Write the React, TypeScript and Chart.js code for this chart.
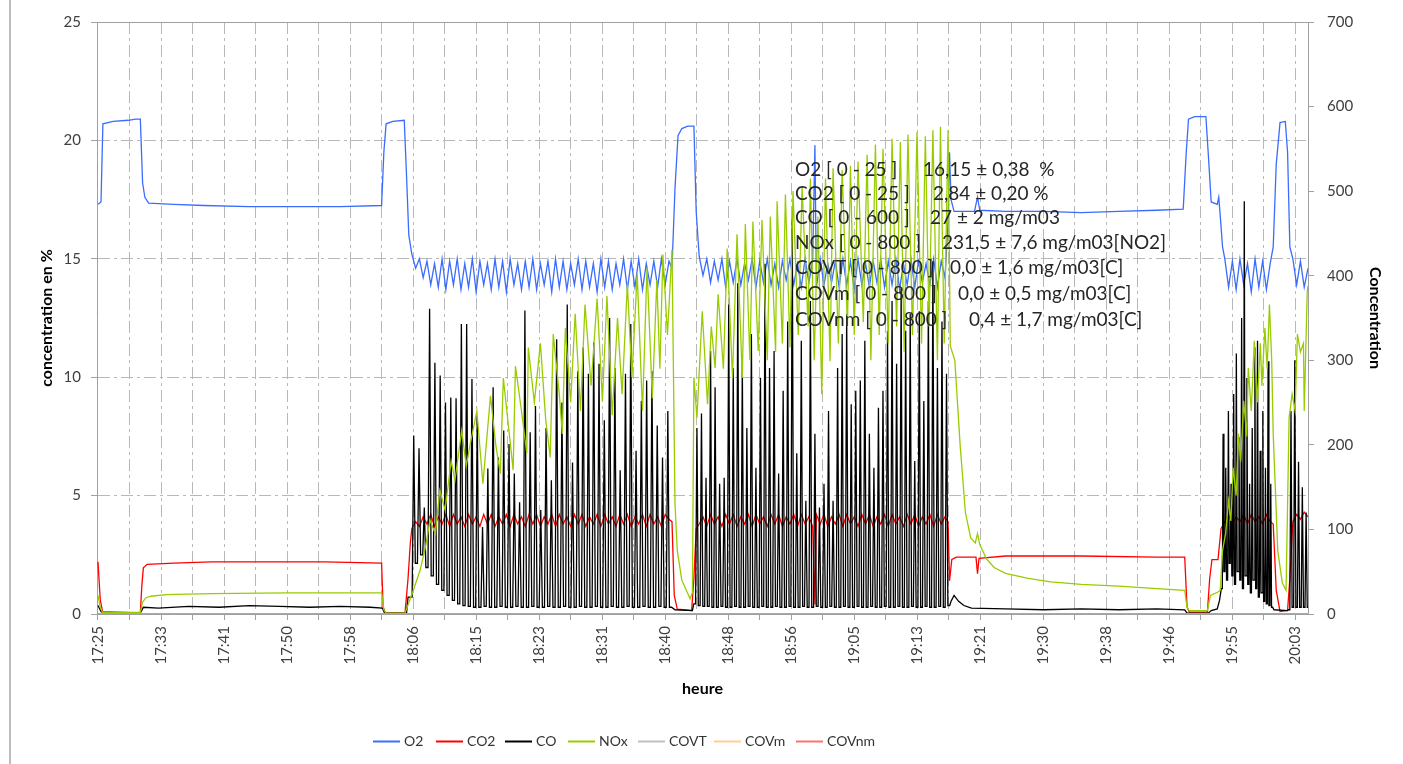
import React, { useEffect, useRef } from "react";
import { Chart, registerables } from "chart.js";

Chart.register(...registerables);

// ---------- axis / label data ----------
const timeLabels = [
  "17:25", "17:33", "17:41", "17:50", "17:58", "18:06", "18:15", "18:23", "18:31", "18:40",
  "18:48", "18:56", "19:05", "19:13", "19:21", "19:30", "19:38", "19:46", "19:55", "20:03",
];
const minutesPerTick = 25 / 6; // a labelled tick every 2 ticks
const tickCount = 39;

const seriesNames = ["O2", "CO2", "CO", "NOx", "COVT", "COVm", "COVnm"];
const seriesColors = ["#3a6cff", "#ff0000", "#000000", "#99cc00", "#c0c0c0", "#ffcc99", "#ff7070"];

const statLabels = [
  "O2 [ 0 - 25 ]",
  "CO2 [ 0 - 25 ]",
  "CO [ 0 - 600 ]",
  "NOx [ 0 - 800 ]",
  "COVT [ 0 - 800 ]",
  "COVm [ 0 - 800 ]",
  "COVnm [ 0 - 800 ]",
];
const statValues = [
  "16,15 ± 0,38  %",
  "2,84 ± 0,20 %",
  "27 ± 2 mg/m03",
  "231,5 ± 7,6 mg/m03[NO2]",
  "0,0 ± 1,6 mg/m03[C]",
  "0,0 ± 0,5 mg/m03[C]",
  "0,4 ± 1,7 mg/m03[C]",
];

// ---------- series data (time in minutes after 17:25) ----------
type Pair = [number, number];
type Burst = { start: number; step: number; values: number[]; spiky?: boolean };

// O2 (%)
const o2Pts: Pair[] = [
  [0, 17.3], [0.4, 17.4], [0.65, 20.7], [2, 20.8], [4, 20.85], [5.0, 20.9], [5.6, 20.9], [5.9, 18.2],
  [6.2, 17.6], [6.7, 17.35], [10, 17.3], [14, 17.25], [20, 17.2], [26, 17.2], [32, 17.2], [37.5, 17.25],
  [37.8, 19.5], [38.1, 20.7], [39, 20.8], [40.5, 20.85], [40.8, 18.5], [41.1, 16.0],
  [75.9, 14.6], [76.3, 18.0], [76.7, 20.2], [77.2, 20.5], [78.0, 20.6], [78.8, 20.6], [79.1, 17.0],
  [94.8, 19.8],
  [112.4, 16.5], [112.6, 19.5], [112.8, 17.5], [113.2, 17.0], [115.9, 17.0], [116.3, 17.6], [116.6, 17.05],
  [120, 17.0], [125, 17.0], [130, 16.95], [135, 17.0], [140, 17.05], [143.5, 17.1], [143.9, 19.5],
  [144.2, 20.9], [145, 21.0], [146.5, 21.0], [146.8, 19.5], [147.2, 17.4], [148.0, 17.3], [148.2, 17.6],
  [148.4, 16.8], [148.7, 15.5],
  [155.4, 15.5], [155.8, 19.0], [156.3, 20.75], [157.0, 20.8], [157.3, 19.5], [157.6, 15.5],
];
const o2Burn1 = [
  15.2, 14.6, 15.0, 14.2, 14.9, 13.9, 14.8, 13.8, 15.0, 13.7,
  14.9, 13.9, 15.0, 13.7, 14.8, 13.8, 15.0, 13.6, 14.9, 13.9,
  14.8, 13.7, 15.0, 13.8, 14.9, 13.6, 15.0, 13.9, 14.8, 13.7,
  14.9, 13.8, 15.0, 13.7, 14.8, 13.9, 14.9, 13.6, 15.0, 13.8,
  14.9, 13.7, 14.8, 13.9, 15.0, 13.7, 14.9, 13.8, 14.8, 13.6,
  15.0, 13.8, 14.9, 13.7, 14.8, 13.9, 15.0, 13.7, 14.9, 13.8,
  15.0, 13.7, 14.8, 13.9, 14.9, 13.8, 15.0, 13.9, 14.9,
];
const o2Burn2 = [
  15.1, 14.3, 15.0, 14.0, 14.9, 14.1, 15.0, 13.8, 14.9, 14.0,
  15.0, 13.9, 14.8, 14.1, 15.0, 13.8, 14.9, 14.0, 15.0, 13.9,
  14.8, 13.8, 14.9, 14.1, 15.0, 13.9, 14.8, 13.8, 15.0, 14.0,
  14.9, 13.8, 15.0, 13.9, 14.8, 14.0, 14.9, 13.8, 15.0, 13.9,
  14.9, 13.7, 15.0, 13.9, 14.8, 13.8, 14.9, 14.0, 15.0, 13.8,
  14.9, 13.9, 15.0, 13.7, 14.8, 13.9, 15.0, 13.8, 14.9, 14.0,
  14.8, 13.9, 15.0, 13.8, 14.9, 14.2,
];
const o2Burn3 = [15.0, 13.8, 14.9, 13.7, 15.0, 13.9, 14.8, 13.6, 15.0, 13.8, 14.9, 13.7, 14.8];
const o2Burn4 = [15.0, 13.9, 14.9, 13.8, 14.6];

// CO2 (%)
const co2Pts: Pair[] = [
  [0, 2.2], [0.3, 0.6], [0.6, 0.1], [5.6, 0.05], [5.8, 1.2], [6.0, 1.95], [6.5, 2.1], [10, 2.15],
  [15, 2.2], [25, 2.2], [30, 2.2], [37.5, 2.15], [37.7, 0.3], [38.0, 0.05], [40.6, 0.05], [41.0, 1.5],
  [41.3, 3.0],
  [75.9, 3.9], [76.2, 0.8], [76.6, 0.2], [78.5, 0.15], [78.8, 1.5], [79.1, 3.6],
  [94.8, 0.4],
  [112.4, 3.9], [112.6, 1.4], [112.9, 2.3], [113.5, 2.4], [116.1, 2.4], [116.3, 1.7], [116.5, 2.35],
  [120, 2.45], [130, 2.45], [140, 2.4], [143.7, 2.4], [144.0, 0.3], [144.3, 0.08], [146.7, 0.08],
  [147.0, 1.5], [147.3, 2.3], [148.1, 2.3], [148.5, 3.6],
  [155.4, 3.8], [155.8, 1.0], [156.3, 0.1], [157.3, 0.15], [157.6, 1.5],
];
const co2Burn1 = [
  3.6, 3.9, 3.7, 4.1, 3.8, 4.2, 3.7, 4.1, 3.8, 4.2,
  3.7, 4.2, 3.8, 4.1, 3.7, 4.2, 3.8, 4.1, 3.7, 4.2,
  3.8, 4.2, 3.7, 4.1, 3.8, 4.2, 3.7, 4.2, 3.8, 4.1,
  3.7, 4.2, 3.8, 4.2, 3.7, 4.1, 3.8, 4.2, 3.7, 4.2,
  3.8, 4.1, 3.7, 4.2, 3.8, 4.2, 3.7, 4.1, 3.8, 4.2,
  3.7, 4.2, 3.8, 4.1, 3.7, 4.2, 3.8, 4.2, 3.7, 4.1,
  3.8, 4.2, 3.7, 4.2, 3.8, 4.1, 3.7, 4.2, 4.0,
];
const co2Burn2 = [
  3.8, 4.1, 3.7, 4.2, 3.8, 4.1, 3.7, 4.2, 3.8, 4.2,
  3.7, 4.1, 3.8, 4.2, 3.7, 4.2, 3.8, 4.1, 3.7, 4.2,
  3.8, 4.2, 3.7, 4.1, 3.8, 4.2, 3.7, 4.2, 3.8, 4.1,
  3.7, 4.2, 3.8, 4.2, 3.7, 4.1, 3.8, 4.2, 3.7, 4.2,
  3.8, 4.1, 3.7, 4.2, 3.8, 4.2, 3.7, 4.1, 3.8, 4.2,
  3.7, 4.2, 3.8, 4.1, 3.7, 4.2, 3.8, 4.2, 3.7, 4.1,
  3.8, 4.2, 3.7, 4.2, 3.8, 4.1,
];
const co2Burn3 = [3.9, 4.2, 3.8, 4.1, 3.9, 4.2, 3.8, 4.2, 3.9, 4.1, 3.8, 4.2, 3.9];
const co2Burn4 = [3.9, 4.2, 4.0, 4.3, 4.1];

// CO (mg/m3) — bursts alternate base level, spike peak
const coPts: Pair[] = [
  [0, 10], [0.4, 3], [0.8, 1], [5.6, 1], [6.0, 8], [8, 7], [12, 9], [16, 8], [20, 10], [24, 9],
  [28, 8], [32, 9], [36, 8], [37.6, 7], [37.9, 1], [40.8, 1], [41.0, 20],
  [76.3, 5], [78.6, 4],
  [112.8, 15], [113.2, 22], [113.8, 15], [114.5, 10], [115.5, 7], [120, 6], [125, 5], [130, 6],
  [135, 5], [140, 6], [143.7, 5], [144.0, 1], [146.8, 1], [147.2, 4], [148.0, 6], [148.3, 16],
  [155.5, 5], [157.3, 4],
];
const coBurn1 = [
  20, 211, 60, 196, 70, 126, 55, 361, 45, 297,
  35, 282, 28, 250, 22, 256, 16, 255, 12, 343,
  10, 343, 9, 278, 8, 234, 8, 103, 9, 172,
  8, 268, 8, 185, 9, 217, 8, 201, 8, 166,
  9, 132, 8, 359, 8, 215, 9, 246, 8, 123,
  8, 220, 9, 158, 8, 325, 8, 250, 9, 366,
  8, 179, 8, 287, 9, 315, 8, 284, 8, 321,
  9, 296, 8, 229, 8, 350, 9, 291, 8, 170,
  8, 284, 9, 343, 8, 193, 8, 252, 9, 276,
  8, 287, 8, 223, 9, 185, 8, 240, 8,
];
const coBurn2 = [
  12, 220, 10, 237, 9, 161, 9, 311, 8, 268,
  8, 154, 9, 161, 8, 366, 8, 291, 9, 391,
  8, 296, 8, 220, 9, 331, 8, 173, 8, 279,
  9, 414, 8, 291, 8, 311, 9, 166, 8, 264,
  8, 346, 9, 468, 8, 190, 8, 323, 9, 134,
  8, 370, 8, 213, 9, 126, 8, 154, 8, 240,
  9, 134, 8, 291, 8, 331, 9, 355, 8, 248,
  8, 264, 9, 276, 8, 323, 8, 213, 9, 173,
  8, 244, 8, 264, 9, 335, 8, 370, 8, 296,
  9, 385, 8, 335, 8, 355, 9, 181, 8, 358,
  8, 252, 9, 370, 8, 417, 8, 291, 9, 346,
  8, 284, 10,
];
const coBurn3 = [
  30, 213, 50, 173, 40, 240, 60, 154, 45, 260,
  35, 308, 50, 209, 40, 350, 30, 488, 45, 279,
  35, 154, 25, 220, 40, 315, 30, 323, 20, 193,
  25, 240, 15, 173, 12, 299, 10, 154, 8,
];
const coBurn4 = [5, 240, 8, 300, 8, 180, 8, 150, 8, 120, 8];

// NOx (mg/m3)
const noxPts: Pair[] = [
  [0, 22], [0.3, 8], [0.6, 2], [5.6, 2], [5.9, 14], [6.3, 19], [7, 21], [9, 23], [15, 24], [25, 25],
  [30, 25], [37.5, 25], [37.8, 5], [38.1, 1], [40.6, 1],
  [41.7, 28], [42.6, 52], [43.3, 79], [43.9, 111], [44.6, 95], [45.2, 146], [45.9, 123], [46.7, 181],
  [47.2, 158], [48.1, 217], [48.7, 175], [49.2, 200], [50.1, 240], [50.9, 154], [51.9, 258], [52.6, 200],
  [53.2, 166], [53.6, 279], [54.3, 220], [54.9, 170], [55.2, 293], [56.0, 240], [56.7, 190], [56.9, 315],
  [57.7, 250], [58.5, 320], [59.2, 230], [59.8, 185], [60.2, 331], [61.0, 260], [61.4, 213], [61.8, 338],
  [62.5, 250], [63.1, 355], [63.8, 240], [64.4, 366], [65.2, 270], [66.0, 373], [66.7, 252], [67.3, 376],
  [68.0, 235], [68.7, 350], [69.3, 260], [70.0, 390], [70.6, 280], [71.3, 402], [72.0, 240], [72.6, 410],
  [73.3, 255], [73.9, 395], [74.3, 290], [74.7, 425], [75.3, 330], [75.9, 431], [76.3, 130], [76.6, 75],
  [77.2, 40], [78.3, 18], [78.6, 25],
  [78.8, 280], [79.2, 232], [79.9, 358], [80.6, 248], [81.1, 340], [81.6, 291], [82.0, 378], [82.7, 290],
  [83.2, 432], [83.9, 279], [84.5, 449], [85.2, 279], [85.6, 461], [86.2, 300], [86.6, 464], [87.3, 311],
  [87.8, 466], [88.5, 300], [88.9, 470], [89.6, 310], [89.8, 488], [90.5, 320], [90.9, 496], [91.5, 315],
  [91.9, 500], [92.6, 330], [93.1, 505], [93.9, 340], [94.2, 515], [94.7, 300], [95.2, 470], [95.7, 260],
  [96.2, 515], [96.8, 299], [97.2, 527], [97.9, 320], [98.4, 525], [99.1, 340], [99.5, 530], [100.0, 330],
  [100.5, 535], [101.2, 345], [101.7, 543], [102.2, 300], [102.8, 555], [103.3, 330], [103.8, 550],
  [104.5, 320], [105.0, 562], [105.6, 340], [106.1, 558], [106.6, 310], [107.1, 567], [107.7, 330],
  [108.3, 570], [108.9, 320], [109.4, 565], [109.9, 340], [110.4, 572], [111.0, 300], [111.4, 576],
  [111.9, 320], [112.4, 572],
  [112.7, 317], [113.3, 300], [114.0, 200], [114.7, 120], [115.4, 90], [116.0, 84], [116.3, 95],
  [116.6, 82], [117.5, 65], [118.5, 55], [120, 48], [123, 42], [126, 38], [130, 35], [135, 33], [140, 30],
  [143.7, 28], [144.0, 8], [144.3, 4], [146.7, 4], [147.1, 22], [148.1, 26], [148.4, 28],
  [148.7, 75], [149.1, 95], [149.5, 134], [149.8, 110], [150.1, 173], [150.5, 140], [150.8, 213],
  [151.1, 180], [151.5, 252], [151.9, 210], [152.1, 291], [152.5, 240], [152.9, 323], [153.3, 250],
  [153.7, 320], [153.9, 270], [154.3, 338], [154.6, 290], [154.9, 366], [155.2, 300], [155.4, 213],
  [156.0, 75], [156.6, 37], [157.1, 28], [157.5, 232], [157.9, 260], [158.3, 240], [158.6, 331],
  [159.0, 310], [159.4, 320], [159.5, 240], [159.9, 382], [160, 388],
];

// COV series (flat at zero)
const covtPts: Pair[] = [[0, 0], [160, 0]];
const covmPts: Pair[] = [[0, 0], [160, 0]];
const covnmPts: Pair[] = [[0, 0], [160, 0]];

function buildSeries(pairs: Pair[], bursts: Burst[]) {
  const pts = pairs.map(([x, y]) => ({ x, y }));
  bursts.forEach((b) =>
    b.values.forEach((v, i) => {
      const t = b.start + i * b.step;
      if (b.spiky && i % 2 === 0) {
        // base level held flat between two spikes
        pts.push({ x: t - b.step * 0.4, y: v });
        pts.push({ x: t + b.step * 0.4, y: v });
      } else {
        pts.push({ x: t, y: v });
      }
    })
  );
  pts.sort((a, b) => a.x - b.x);
  return pts;
}

const o2Data = buildSeries(o2Pts, [
  { start: 41.5, step: 0.5, values: o2Burn1 },
  { start: 79.5, step: 0.5, values: o2Burn2 },
  { start: 149.0, step: 0.5, values: o2Burn3 },
  { start: 158.0, step: 0.5, values: o2Burn4 },
]);
const co2Data = buildSeries(co2Pts, [
  { start: 41.5, step: 0.5, values: co2Burn1 },
  { start: 79.5, step: 0.5, values: co2Burn2 },
  { start: 149.0, step: 0.5, values: co2Burn3 },
  { start: 158.0, step: 0.5, values: co2Burn4 },
]);
const coData = buildSeries(coPts, [
  { start: 41.4, step: 0.35, values: coBurn1, spiky: true },
  { start: 78.9, step: 0.3, values: coBurn2, spiky: true },
  { start: 148.6, step: 0.175, values: coBurn3, spiky: true },
  { start: 157.5, step: 0.25, values: coBurn4, spiky: true },
]);
const noxData = buildSeries(noxPts, []);
const covtData = buildSeries(covtPts, []);
const covmData = buildSeries(covmPts, []);
const covnmData = buildSeries(covnmPts, []);

const allData = [o2Data, co2Data, coData, noxData, covtData, covmData, covnmData];
const axisOf = ["y", "y", "y1", "y1", "y1", "y1", "y1"];

// ---------- styling ----------
const FONT = "Lato, 'Open Sans', sans-serif";
const GRID = "#b8b8b8";
const AXIS = "#a0a0a0";
const TEXT = "#404040";

const legendLineX = [373, 436, 505, 568, 638, 714, 796];
const statLayout = { labelX: 795, valueX: [923, 933, 930, 942, 950, 958, 969], y: [170, 194, 218, 243, 268, 294, 320] };

const extrasPlugin = {
  id: "extras",
  afterDraw(chart: any) {
    const { ctx, chartArea } = chart;
    ctx.save();
    // top frame line of the plot
    ctx.strokeStyle = AXIS;
    ctx.lineWidth = 1;
    ctx.beginPath();
    ctx.moveTo(chartArea.left, Math.round(chartArea.top) + 0.5);
    ctx.lineTo(chartArea.right, Math.round(chartArea.top) + 0.5);
    ctx.stroke();
    // left frame of the chart object
    ctx.strokeStyle = "#a6a6a6";
    ctx.lineWidth = 1.5;
    ctx.beginPath();
    ctx.moveTo(10, 0);
    ctx.lineTo(10, chart.height);
    ctx.stroke();

    // statistics text
    ctx.fillStyle = "#262626";
    ctx.font = `19px ${FONT}`;
    ctx.textBaseline = "middle";
    ctx.textAlign = "left";
    statLabels.forEach((s, i) => {
      ctx.fillText(s, statLayout.labelX, statLayout.y[i]);
      ctx.fillText(statValues[i], statLayout.valueX[i], statLayout.y[i]);
    });

    // legend
    ctx.font = `14px ${FONT}`;
    ctx.fillStyle = "#333";
    const ly = 741.5;
    chart.data.datasets.forEach((ds: any, i: number) => {
      const x0 = legendLineX[i];
      ctx.strokeStyle = ds.borderColor;
      ctx.lineWidth = 2;
      ctx.beginPath();
      ctx.moveTo(x0, ly);
      ctx.lineTo(x0 + 27, ly);
      ctx.stroke();
      ctx.fillText(ds.label, x0 + 31, ly);
    });
    ctx.restore();
  },
};

export default function App() {
  const canvasRef = useRef<HTMLCanvasElement | null>(null);

  useEffect(() => {
    const canvas = canvasRef.current;
    if (!canvas) return;
    const tickValues = Array.from({ length: tickCount }, (_, i) => i * minutesPerTick);

    const datasets = seriesNames.map((name, i) => ({
      label: name,
      data: allData[i],
      borderColor: seriesColors[i],
      backgroundColor: seriesColors[i],
      borderWidth: 1.3,
      pointRadius: 0,
      tension: 0,
      fill: false,
      yAxisID: axisOf[i],
      order: seriesNames.length - i,
    }));

    const chart = new Chart(canvas, {
      type: "line",
      data: { datasets } as any,
      options: {
        responsive: false,
        maintainAspectRatio: false,
        animation: false,
        devicePixelRatio: 1,
        events: [],
        layout: { padding: { top: 20, left: 0, right: 0, bottom: 0 } },
        plugins: { legend: { display: false }, tooltip: { enabled: false } },
        scales: {
          x: {
            type: "linear",
            min: -0.13,
            max: 160,
            afterBuildTicks: (s: any) => {
              s.ticks = tickValues.map((v) => ({ value: v }));
            },
            afterFit: (s: any) => {
              s.height = 150;
            },
            ticks: {
              autoSkip: false,
              minRotation: 90,
              maxRotation: 90,
              padding: 6,
              color: TEXT,
              font: { family: FONT, size: 15 },
              callback: (_v: any, i: number) => (i % 2 === 0 ? timeLabels[i / 2] : ""),
            },
            grid: { color: GRID, lineWidth: 1, tickLength: 6, tickColor: AXIS, tickBorderDash: [] },
            border: { display: true, color: AXIS, width: 1, dash: [12, 4, 3, 4] },
            title: {
              display: true,
              text: "heure",
              color: "#000",
              font: { family: FONT, size: 16, weight: "bold" },
              padding: { top: 0, bottom: 66 },
            },
          },
          y: {
            position: "left",
            min: 0,
            max: 25,
            afterFit: (s: any) => {
              s.width = 97;
            },
            ticks: { stepSize: 5, padding: 10, color: TEXT, font: { family: FONT, size: 15 } },
            grid: { color: GRID, lineWidth: 1, tickLength: 6, tickColor: AXIS, tickBorderDash: [] },
            border: { display: true, color: AXIS, width: 1, dash: [12, 4, 3, 4] },
            title: {
              display: true,
              text: "concentration en %",
              color: "#000",
              font: { family: FONT, size: 16, weight: "bold" },
              padding: { top: 37, bottom: 0 },
            },
          },
          y1: {
            position: "right",
            min: 0,
            max: 700,
            afterFit: (s: any) => {
              s.width = 95;
            },
            ticks: { stepSize: 100, padding: 13, color: TEXT, font: { family: FONT, size: 15 } },
            grid: { drawOnChartArea: false, tickLength: 6, tickColor: AXIS, tickBorderDash: [] },
            border: { display: true, color: AXIS, width: 1 },
            title: {
              display: true,
              text: "Concentration",
              color: "#000",
              font: { family: FONT, size: 16, weight: "bold" },
              padding: { top: 18, bottom: 0 },
            },
          },
        },
      } as any,
      plugins: [extrasPlugin],
    });

    return () => chart.destroy();
  }, []);

  return (
    <div style={{ position: "fixed", left: 0, top: 0, width: 1403, height: 764, background: "#fff" }}>
      <canvas ref={canvasRef} width={1403} height={764} style={{ display: "block", width: 1403, height: 764 }} />
    </div>
  );
}
